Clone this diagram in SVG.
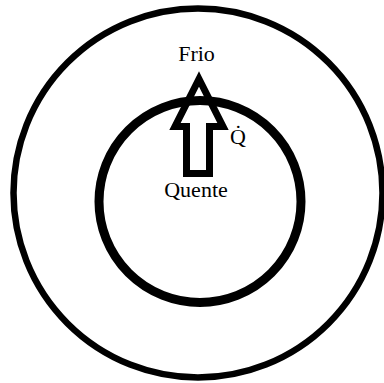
<svg xmlns="http://www.w3.org/2000/svg" width="384" height="383" viewBox="0 0 384 383">
<style>
.lbl{font-family:"Liberation Serif","Times New Roman",serif;font-size:22px;fill:#000}
.ring{fill:none;stroke:#000}
</style>
<rect width="384" height="383" fill="#fff"/>
<g id="outer"><circle class="ring" cx="198" cy="193" r="184.5" stroke-width="6.5"/></g>
<g id="inner"><circle class="ring" cx="200" cy="201.5" r="101" stroke-width="9"/></g>
<g id="connectors">
<path d="M199,79 L223,126.5 L209.5,126.5 L209.5,173.5 L186.5,173.5 L186.5,126.5 L175,126.5 Z" fill="none" stroke="#000" stroke-width="7" stroke-linejoin="miter"/>
</g>
<g id="frio"><text class="lbl" x="196.5" y="61" text-anchor="middle">Frio</text></g>
<g id="quente"><text class="lbl" x="196" y="197" text-anchor="middle">Quente</text></g>
<g id="q"><text class="lbl" x="230" y="144" font-size="21">Q̇</text></g>
</svg>
